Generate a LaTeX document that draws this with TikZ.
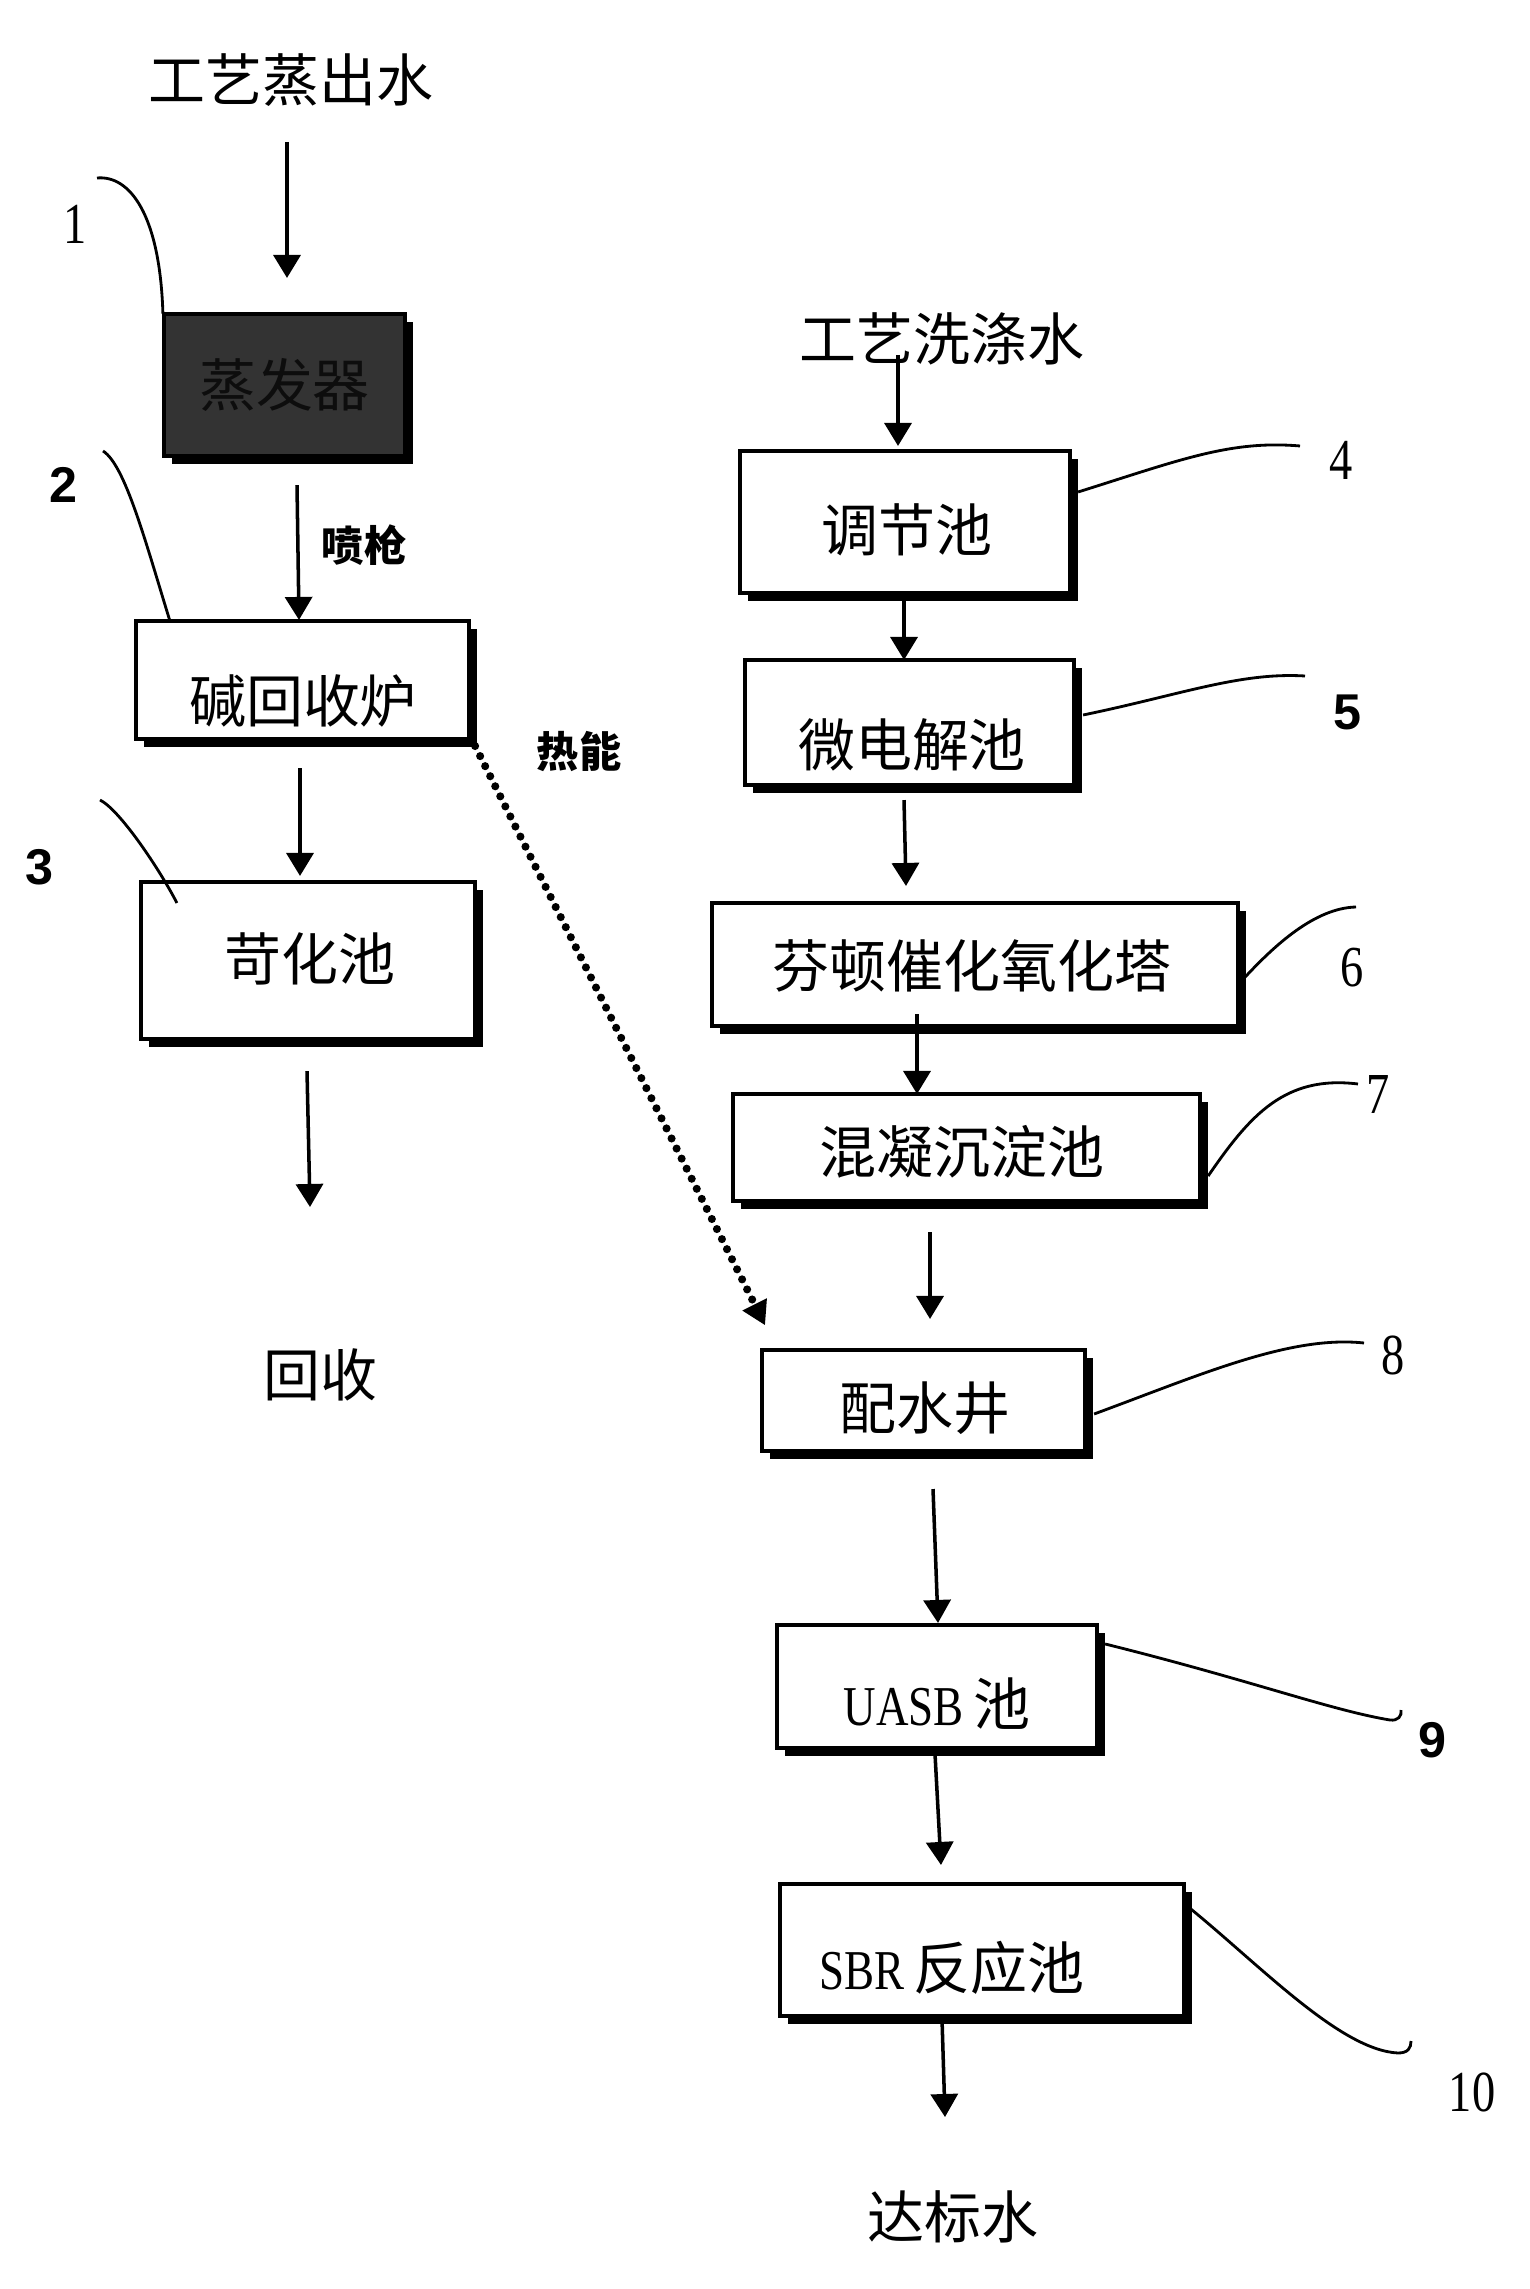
\documentclass[tikz,border=0pt]{standalone}
\usepackage{fontspec}
\setmainfont{Liberation Serif}
\newfontfamily\cjk{Noto Sans CJK SC}
\newfontfamily\condserif{Liberation Serif}[FakeStretch=0.8]
\newfontfamily\numsans{Liberation Sans}
\usetikzlibrary{arrows.meta,shadows}
\begin{document}
\begin{tikzpicture}[x=0.01cm,y=-0.01cm,
  box/.style={draw, line width=1.2pt, fill=white, inner sep=0pt, outer sep=0pt,
    general shadow={fill=black, shadow xshift=0.08cm, shadow yshift=-0.08cm}},
  cn/.style={font=\cjk\fontsize{16.2}{19}\selectfont, inner sep=0pt},
  cnb/.style={font=\cjk\bfseries\fontsize{12}{14}\selectfont, inner sep=0pt},
  numr/.style={font=\condserif\fontsize{16.5}{19}\selectfont, inner sep=0pt},
  nums/.style={font=\numsans\bfseries\fontsize{14.3}{17}\selectfont, inner sep=0pt},
  arr/.style={line width=1pt, -{Triangle[width=0.27cm,length=0.23cm]}},
  lead/.style={line width=0.8pt},
  heat/.style={line width=2.3pt, line cap=round, dash pattern=on 0pt off 3.2pt,
    -{Triangle[width=0.27cm,length=0.23cm,line width=0.6pt]}}
]
\useasboundingbox (0,0) rectangle (1529,2289);

% ---------- boxes ----------
\node[box, fill=black!80, minimum width=2.41cm, minimum height=1.42cm] (b1) at (284.5,385) {};
\node[box, minimum width=3.33cm, minimum height=1.18cm] (b2) at (302.5,680) {};
\node[box, minimum width=3.34cm, minimum height=1.57cm] (b3) at (308,960.5) {};
\node[box, minimum width=3.30cm, minimum height=1.42cm] (b4) at (905,522) {};
\node[box, minimum width=3.29cm, minimum height=1.25cm] (b5) at (909.5,722.5) {};
\node[box, minimum width=5.26cm, minimum height=1.23cm] (b6) at (975,964.5) {};
\node[box, minimum width=4.67cm, minimum height=1.07cm] (b7) at (966.5,1147.5) {};
\node[box, minimum width=3.23cm, minimum height=1.01cm] (b8) at (923.5,1400.5) {};
\node[box, minimum width=3.20cm, minimum height=1.23cm] (b9) at (937,1686.5) {};
\node[box, minimum width=4.04cm, minimum height=1.32cm] (b10) at (982,1950) {};

% ---------- texts ----------
\node[cn] (in1) at (291,80) {工艺蒸出水};
\node[cn] (in2) at (942,339) {工艺洗涤水};
\node[cn, text=black!95] (t1) at (284.5,385) {蒸发器};
\node[cn] (t2) at (303,701) {碱回收炉};
\node[cn] (t3) at (310,959) {苛化池};
\node[cn] (rec) at (320,1375) {回收};
\node[cnb] (pq) at (364,545) {喷枪};
\node[cnb] (rn) at (579,752) {热能};
\node[cn] (t4) at (907,530) {调节池};
\node[cn] (t5) at (912,745) {微电解池};
\node[cn] (t6) at (972,966) {芬顿催化氧化塔};
\node[cn] (t7) at (962,1152) {混凝沉淀池};
\node[cn] (t8) at (925,1408) {配水井};
\node (t9) at (937,1704) {\condserif\fontsize{16}{19}\selectfont UASB\,\cjk\fontsize{16.2}{19}\selectfont 池};
\node (t10) at (952,1968) {\condserif\fontsize{16}{19}\selectfont SBR\,\cjk\fontsize{16.2}{19}\selectfont 反应池};
\node[cn] (out) at (953,2217) {达标水};

% ---------- number labels ----------
\node[numr] (n1) at (75,224) {1};
\node[nums] (n2) at (63,485) {2};
\node[nums] (n3) at (39,867) {3};
\node[numr] (n4) at (1341,460) {4};
\node[nums] (n5) at (1347,712) {5};
\node[numr] (n6) at (1352,968) {6};
\node[numr] (n7) at (1378,1094) {7};
\node[numr] (n8) at (1393,1355) {8};
\node[nums] (n9) at (1432,1740) {9};
\node[numr] (n10) at (1472,2092) {10};

% ---------- leader lines ----------
\coordinate (e1) at (97,178);
\coordinate (e2) at (103,451);
\coordinate (e3) at (100,800);
\coordinate (e4) at (1300,446);
\coordinate (e5) at (1305,676);
\coordinate (e6) at (1356,907);
\coordinate (e7) at (1358,1084);
\coordinate (e8) at (1364,1343);
\coordinate (e9) at (1401,1710);
\coordinate (e10) at (1411,2041);
\draw[lead] (e1) .. controls (130,175) and (160,215) .. ([shift={(-1,0)}]b1.north west);
\draw[lead] (e2) .. controls (125,465) and (145,540) .. ([shift={(34,0)}]b2.north west);
\draw[lead] (e3) .. controls (120,810) and (160,870) .. ([shift={(36,21)}]b3.north west);
\draw[lead] ([shift={(8,-30)}]b4.east) .. controls (1180,460) and (1230,440) .. (e4);
\draw[lead] ([shift={(9,-7.5)}]b5.east) .. controls (1180,695) and (1240,672) .. (e5);
\draw[lead] ([shift={(7,12.5)}]b6.east) .. controls (1275,945) and (1315,908) .. (e6);
\draw[lead] ([shift={(8,28.5)}]b7.east) .. controls (1250,1115) and (1285,1075) .. (e7);
\draw[lead] ([shift={(9,13.5)}]b8.east) .. controls (1200,1375) and (1290,1335) .. (e8);
\draw[lead] ([shift={(8,19)}]b9.north east) .. controls (1250,1680) and (1330,1710) .. (1390,1720)
  .. controls (1398,1721) and (1402,1716) .. (e9);
\draw[lead] ([shift={(3,22)}]b10.north east) .. controls (1260,1965) and (1340,2050) .. (1398,2053)
  .. controls (1408,2053) and (1411,2048) .. (e10);

% ---------- flow arrows ----------
\draw[arr] ([shift={(-4,62)}]in1.center) -- ([shift={(2.5,-36)}]b1.north);
\draw[arr] ([shift={(12.5,29)}]b1.south) -- ([shift={(-3.5,-1)}]b2.north);
\draw[arr] ([shift={(-2.5,29)}]b2.south) -- ([shift={(-8,-6)}]b3.north);
\draw[arr] ([shift={(-1,32)}]b3.south) -- ([shift={(-10,-168)}]rec.center);
\draw[arr] ([shift={(-44,16)}]in2.center) -- ([shift={(-7,-5)}]b4.north);
\draw[arr] ([shift={(-1,2)}]b4.south) -- ([shift={(-5.5,0)}]b5.north);
\draw[arr] ([shift={(-5.5,15)}]b5.south) -- ([shift={(-69,-17)}]b6.north);
\draw[arr] ([shift={(-58,-12)}]b6.south) -- ([shift={(-49.5,0)}]b7.north);
\draw[arr] ([shift={(-36.5,31)}]b7.south) -- ([shift={(6.5,-31)}]b8.north);
\draw[arr] ([shift={(9.5,38)}]b8.south) -- ([shift={(1,-2)}]b9.north);
\draw[arr] ([shift={(-2,6)}]b9.south) -- ([shift={(-41,-19)}]b10.north);
\draw[arr] ([shift={(-40,3)}]b10.south) -- ([shift={(-8,-100)}]out.center);
\draw[heat] ([shift={(6,7)}]b2.south east) -- ([shift={(3,-25)}]b8.north west);
\end{tikzpicture}
\end{document}
